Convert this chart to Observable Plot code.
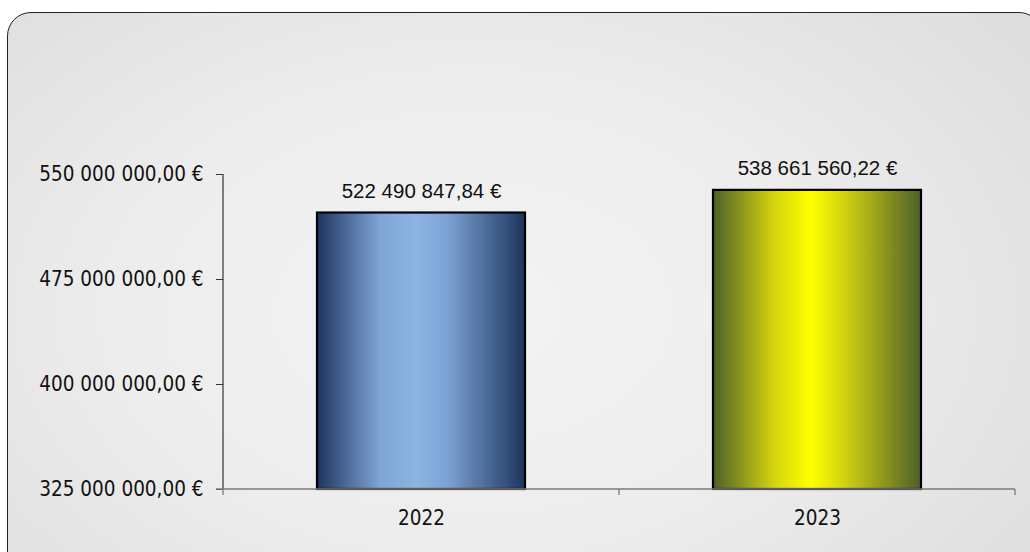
<!DOCTYPE html>
<html>
<head>
<meta charset="utf-8">
<script src="https://cdn.jsdelivr.net/npm/d3@7"></script>
<script src="https://cdn.jsdelivr.net/npm/@observablehq/plot@0.6"></script>
<style>
  html, body { margin: 0; padding: 0; width: 1030px; height: 552px; overflow: hidden; background: #ffffff; }
  #panel {
    position: absolute; left: 7px; top: 12px; width: 1036px; height: 600px;
    box-sizing: border-box; border: 1.5px solid #222; border-radius: 24px;
    background: radial-gradient(ellipse 75% 85% at 45% 50%, #f3f3f3 0%, #ededed 45%, #dadada 100%);
  }
  #chart { position: absolute; left: 0; top: 0; }
</style>
</head>
<body>
<div id="panel"></div>
<div id="chart"></div>
<script>
// ---- data ----
const years = ["2022", "2023"];
const values = [522490847.84, 538661560.22];
const valueLabels = ["522 490 847,84 €", "538 661 560,22 €"];
const yTicks = [325000000, 400000000, 475000000, 550000000];
const yTickLabels = ["325 000 000,00 €", "400 000 000,00 €", "475 000 000,00 €", "550 000 000,00 €"];
const gradEdge = ["#1d355e", "#4d6028"];
const gradMid = ["#7ea4d6", "#d6d60e"];
const gradCenter = ["#8db3e2", "#ffff00"];

const rows = years.map((y, i) => ({year: y, value: values[i], label: valueLabels[i], gid: "grad" + y}));

const NS = "http://www.w3.org/2000/svg";
function el(tag, attrs) {
  const e = document.createElementNS(NS, tag);
  for (const k in attrs) e.setAttribute(k, attrs[k]);
  return e;
}

// gradient definitions
function gradientDefs() {
  const defs = el("defs", {});
  years.forEach((y, i) => {
    const g = el("linearGradient", {id: "grad" + y, x1: "0", y1: "0", x2: "1", y2: "0"});
    [[0, gradEdge[i]], [0.3, gradMid[i]], [0.47, gradCenter[i]], [0.62, gradMid[i]], [1, gradEdge[i]]]
      .forEach(([o, c]) => g.appendChild(el("stop", {offset: o, "stop-color": c})));
    defs.appendChild(g);
  });
  return defs;
}

// axis lines and category boundary ticks, derived from the scales
function axisLines(index, scales, values, dims) {
  const g = el("g", {});
  const x = scales.x, y = scales.y;
  const step = x.step(), bw = x.bandwidth();
  const x0 = x(years[0]) - (step - bw) / 2;
  const x1 = x(years[years.length - 1]) + bw + (step - bw) / 2;
  const yTop = y(yTicks[yTicks.length - 1]), yBot = y(yTicks[0]);
  g.appendChild(el("line", {x1: x0, x2: x0, y1: yTop, y2: yBot, stroke: "#333", "stroke-width": 1.2}));
  g.appendChild(el("line", {x1: x0 - 7, x2: x1, y1: yBot, y2: yBot, stroke: "#7a7a7a", "stroke-width": 1.6}));
  const bounds = years.map(d => x(d) - (step - bw) / 2).concat([x1]);
  bounds.forEach(b => g.appendChild(el("line", {x1: b, x2: b, y1: yBot, y2: yBot + 6, stroke: "#7a7a7a", "stroke-width": 1.3})));
  return g;
}

const chart = Plot.plot({
  width: 1030,
  height: 552,
  marginLeft: 223,
  marginRight: 15,
  marginTop: 174,
  marginBottom: 63,
  style: {background: "transparent", fontFamily: "'DejaVu Sans Condensed', 'DejaVu Sans', sans-serif", fontSize: "20.5px", color: "#111"},
  x: {domain: years, paddingInner: 0.475, paddingOuter: 0.2375},
  y: {domain: [325000000, 550000000]},
  marks: [
    gradientDefs,
    Plot.axisY({ticks: yTicks, tickFormat: (d) => yTickLabels[yTicks.indexOf(d)], tickSize: 7, tickPadding: 13, stroke: "#333", label: null, fontSize: 20.5}),
    Plot.axisX({tickSize: 0, tickPadding: 21, label: null, fontSize: 20.5}),
    Plot.barY(rows, {x: "year", y1: 325000000, y2: "value", fill: (d) => `url(#${d.gid})`, stroke: "#000", strokeWidth: 2.2}),
    axisLines,
    Plot.text(rows, {x: "year", y: "value", text: "label", dy: -22, fontFamily: "'Liberation Sans', Arial, sans-serif", fontSize: 20.5, fill: "#111"})
  ]
});
document.getElementById("chart").appendChild(chart);
</script>
</body>
</html>
